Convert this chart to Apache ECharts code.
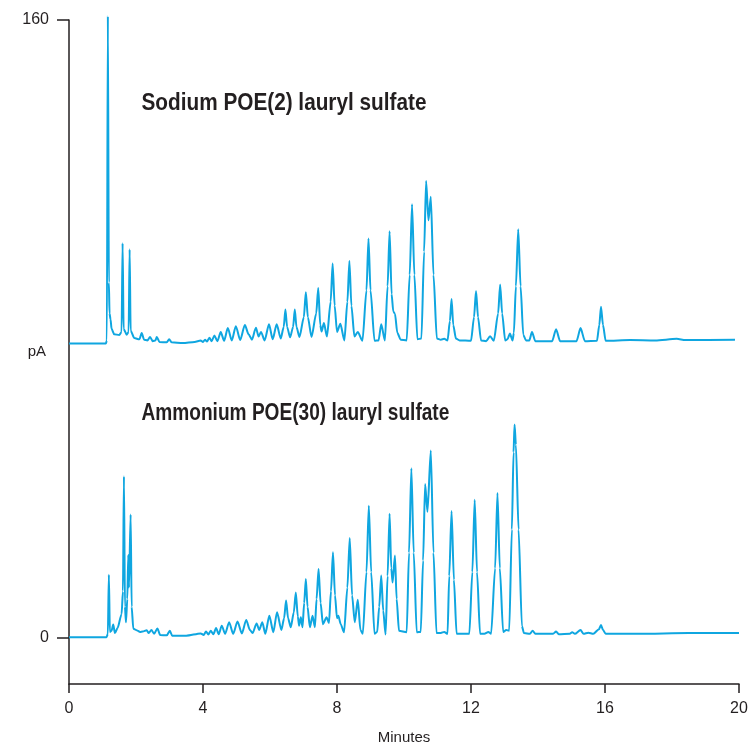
<!DOCTYPE html>
<html>
<head>
<meta charset="utf-8">
<script src="https://cdn.jsdelivr.net/npm/echarts@6/dist/echarts.min.js"></script>
<style>
  html, body { margin: 0; padding: 0; background: #ffffff; }
  #chart { width: 754px; height: 747px; }
</style>
</head>
<body>
<div id="chart"></div>
<script>
// ---- data ----
const titleTop = 'Sodium POE(2) lauryl sulfate';
const titleBottom = 'Ammonium POE(30) lauryl sulfate';
const yTickValues = [0, 160];

const sodiumTime = [0, 1.10, 1.13, 1.16, 1.19, 1.21, 1.24, 1.27, 1.35, 1.50, 1.57, 1.60, 1.63, 1.72, 1.78, 1.81, 1.84, 1.95,
  2.10, 2.17, 2.24, 2.34, 2.42, 2.50, 2.58, 2.62, 2.70, 2.92, 2.99, 3.06, 3.40, 3.75, 3.93, 4.00, 4.06, 4.12, 4.19, 4.26,
  4.34, 4.43, 4.53, 4.63, 4.74, 4.86, 4.98, 5.11, 5.25, 5.36, 5.46, 5.58, 5.66, 5.73, 5.84, 5.97, 6.08, 6.20, 6.32,
  6.41, 6.46, 6.51, 6.60, 6.69, 6.74, 6.79, 6.88, 7.01, 7.07, 7.13, 7.24, 7.38, 7.44, 7.50, 7.54, 7.61, 7.70,
  7.81, 7.87, 7.93, 8.00, 8.10, 8.22, 8.31, 8.37, 8.43, 8.52, 8.62, 8.76, 8.88, 8.94, 9.00, 9.12, 9.24, 9.32, 9.43,
  9.51, 9.57, 9.63, 9.68, 9.73, 9.80, 9.90, 10.08, 10.17, 10.24, 10.31, 10.40, 10.52, 10.60, 10.66, 10.73, 10.80,
  10.88, 10.98, 11.10, 11.20, 11.30, 11.37, 11.42, 11.47, 11.55, 11.66, 12.00, 12.09, 12.15, 12.21, 12.30, 12.45,
  12.57, 12.68, 12.81, 12.87, 12.93, 13.02, 13.09, 13.16, 13.24, 13.28, 13.34, 13.41, 13.48, 13.56, 13.64, 13.74,
  13.82, 13.92, 14.42, 14.54, 14.66, 15.15, 15.27, 15.40, 15.76, 15.83, 15.88, 15.94, 16.02, 16.75, 17.50, 18.14,
  18.40, 19.88];
const sodiumPA = [76.2, 76.2, 77.0, 161, 92, 84, 82.5, 80.0, 78.6, 78.4, 79.2, 102.2, 80.0, 78.5, 79.2, 100.6, 79.5, 77.6,
  77.3, 78.9, 77.2, 77.0, 77.9, 76.8, 77.0, 77.9, 76.6, 76.5, 77.3, 76.5, 76.3, 76.6, 77.0, 76.6, 77.2, 76.7, 77.7, 76.8,
  78.3, 76.8, 79.2, 76.9, 80.2, 77.0, 80.7, 77.1, 81.0, 78.6, 77.2, 80.3, 78.0, 79.2, 77.0, 81.2, 77.3, 81.2, 77.5,
  80.5, 85.0, 80.5, 77.8, 80.5, 85.0, 80.5, 77.9, 83.0, 89.5, 83.0, 77.9, 84.0, 90.6, 81.0, 79.3, 81.5, 78.0,
  87.0, 96.9, 86.0, 79.2, 81.3, 77.0, 87.0, 97.6, 86.0, 78.0, 79.2, 76.9, 90.0, 103.4, 90.0, 76.9, 77.0, 81.2, 77.0,
  91.0, 105.3, 89.0, 84.5, 83.9, 79.0, 77.2, 77.0, 94.0, 112.3, 94.0, 77.3, 77.5, 100.0, 118.3, 108.1, 114.2,
  94.0, 77.5, 77.2, 77.4, 77.0, 82.0, 87.7, 81.0, 77.5, 77.0, 76.9, 83.0, 89.8, 83.0, 77.0, 76.8,
  78.1, 76.9, 84.0, 91.5, 84.0, 77.0, 77.3, 78.8, 77.0, 79.0, 91.0, 105.8, 91.0, 78.5, 77.0, 77.0,
  79.2, 76.8, 76.8, 79.9, 76.8, 76.8, 80.2, 76.8, 76.9, 81.0, 85.7, 81.0, 76.9, 77.1, 77.0, 77.4,
  77.1, 77.2];

const ammoniumTime = [0, 1.12, 1.16, 1.19, 1.22, 1.27, 1.32, 1.37, 1.45, 1.57, 1.61, 1.64, 1.67, 1.70, 1.74, 1.77, 1.79, 1.84,
  1.87, 1.92, 2.05, 2.12, 2.20, 2.32, 2.38, 2.46, 2.54, 2.64, 2.72, 2.92, 3.01, 3.08, 3.50, 3.93, 4.02, 4.09, 4.16, 4.23,
  4.31, 4.39, 4.47, 4.56, 4.66, 4.78, 4.90, 5.03, 5.16, 5.29, 5.40, 5.48, 5.60, 5.68, 5.77, 5.86, 5.98, 6.10, 6.21,
  6.34, 6.42, 6.48, 6.54, 6.62, 6.71, 6.77, 6.83, 6.87, 6.92, 6.97, 7.02, 7.07, 7.12, 7.19, 7.27, 7.34, 7.39, 7.45,
  7.51, 7.58, 7.69, 7.76, 7.82, 7.88, 7.94, 8.00, 8.04, 8.11, 8.21, 8.31, 8.38, 8.45, 8.53, 8.62, 8.70, 8.77, 8.88,
  8.95, 9.02, 9.12, 9.20, 9.26, 9.32, 9.38, 9.45, 9.51, 9.57, 9.62, 9.66, 9.73, 9.78, 9.85, 10.08, 10.15, 10.22,
  10.29, 10.38, 10.50, 10.57, 10.63, 10.70, 10.80, 10.88, 10.97, 11.10, 11.20, 11.30, 11.35, 11.42, 11.49, 11.57,
  11.95, 12.04, 12.11, 12.18, 12.27, 12.40, 12.52, 12.60, 12.72, 12.79, 12.86, 12.96, 13.05, 13.14, 13.22, 13.27,
  13.30, 13.34, 13.42, 13.52, 13.58, 13.76, 13.84, 13.92, 14.45, 14.54, 14.62, 14.95, 15.02, 15.10, 15.27, 15.36,
  15.50, 15.65, 15.82, 15.88, 15.94, 16.02, 17.00, 18.50, 20.00];
const ammoniumPA = [0.1, 0.1, 1.0, 16.3, 1.5, 1.8, 3.4, 1.2, 2.5, 6.1, 12.0, 41.8, 8.0, 4.0, 10.0, 21.4, 13.0, 31.9,
  8.0, 2.3, 1.8, 1.5, 1.6, 1.9, 1.2, 2.0, 1.0, 2.4, 0.7, 0.6, 1.8, 0.5, 0.5, 1.1, 0.7, 1.6, 0.8, 1.8,
  0.9, 2.5, 0.9, 3.1, 1.0, 4.0, 1.0, 4.2, 1.1, 4.6, 2.0, 1.2, 3.7, 2.0, 4.0, 1.0, 5.7, 1.4, 6.6,
  2.0, 5.0, 9.6, 5.0, 2.7, 6.5, 11.7, 5.5, 3.1, 5.3, 2.7, 9.0, 15.2, 8.0, 2.7, 5.7, 2.7, 10.0, 17.8,
  9.0, 3.5, 5.3, 3.8, 12.0, 22.1, 11.0, 5.0, 5.7, 3.5, 1.4, 13.0, 25.8, 11.0, 4.0, 9.8, 2.0, 1.0, 17.0,
  34.2, 17.0, 1.0, 1.5, 8.0, 16.1, 7.0, 0.8, 16.0, 32.1, 18.0, 14.3, 21.3, 10.0, 1.8, 1.4, 22.0, 43.9,
  22.0, 1.4, 1.5, 20.0, 39.8, 32.6, 48.5, 22.0, 1.2, 1.2, 1.5, 1.0, 16.0, 32.8, 15.0, 1.0,
  1.0, 17.0, 35.7, 17.0, 1.0, 1.0, 1.5, 1.0, 18.0, 37.5, 18.0, 1.5, 2.0, 1.8, 28.0, 48.0,
  55.2, 50.0, 28.0, 3.0, 1.2, 1.0, 1.8, 1.0, 1.0, 1.6, 0.9, 1.0, 1.4, 1.0, 2.0, 1.0,
  1.3, 1.0, 2.2, 3.3, 2.0, 1.0, 1.0, 1.2, 1.2];

// ---- build chart ----
function pairs(ts, vs) { return ts.map((t, i) => [t, vs[i]]); }

const ink = '#231f20';
const trace = '#0fa6e0';
const tickFont = "'Liberation Sans', Arial, sans-serif";

const chart = echarts.init(document.getElementById('chart'), null, { renderer: 'canvas' });
chart.setOption({
  animation: false,
  backgroundColor: '#ffffff',
  grid: { left: 69, right: 15, top: 20, bottom: 63, outerBoundsMode: 'none', containLabel: false },
  xAxis: {
    type: 'value', min: 0, max: 20, interval: 4,
    name: 'Minutes', nameLocation: 'middle', nameGap: 46, nameMoveOverlap: false,
    nameTextStyle: { color: ink, fontSize: 15, fontFamily: tickFont },
    axisLine: { show: true, onZero: false, lineStyle: { color: ink, width: 1.5 } },
    axisTick: { show: true, length: 9, lineStyle: { color: ink, width: 1.5 } },
    axisLabel: { color: ink, fontSize: 16, margin: 17, fontFamily: tickFont },
    splitLine: { show: false }
  },
  yAxis: {
    type: 'value', min: -12, max: 160,
    name: 'pA', nameLocation: 'middle', nameGap: 23, nameRotate: 0, nameMoveOverlap: false,
    nameTextStyle: { color: ink, fontSize: 15, fontFamily: tickFont, padding: [16, 0, 0, 0] },
    axisLine: { show: true, onZero: false, lineStyle: { color: ink, width: 1.5 } },
    axisTick: { show: true, length: 12, customValues: yTickValues, lineStyle: { color: ink, width: 1.5 } },
    axisLabel: { color: ink, fontSize: 16, margin: 20, customValues: yTickValues, fontFamily: tickFont },
    splitLine: { show: false }
  },
  series: [
    {
      type: 'line', data: pairs(sodiumTime, sodiumPA), showSymbol: false, clip: false,
      smooth: 0.25, smoothMonotone: 'x',
      lineStyle: { color: trace, width: 2 }, itemStyle: { color: trace }
    },
    {
      type: 'line', data: pairs(ammoniumTime, ammoniumPA), showSymbol: false, clip: false,
      smooth: 0.25, smoothMonotone: 'x',
      lineStyle: { color: trace, width: 2 }, itemStyle: { color: trace }
    }
  ],
  graphic: [
    {
      type: 'text', x: 141.5, y: 103, scaleX: 0.865,
      style: { text: titleTop, fill: ink, fontSize: 24, fontWeight: 'bold',
        fontFamily: "'Liberation Sans', Arial, sans-serif", verticalAlign: 'middle', align: 'left' }
    },
    {
      type: 'text', x: 141.5, y: 413, scaleX: 0.796,
      style: { text: titleBottom, fill: ink, fontSize: 24, fontWeight: 'bold',
        fontFamily: "'Liberation Sans', Arial, sans-serif", verticalAlign: 'middle', align: 'left' }
    }
  ]
});
</script>
</body>
</html>
